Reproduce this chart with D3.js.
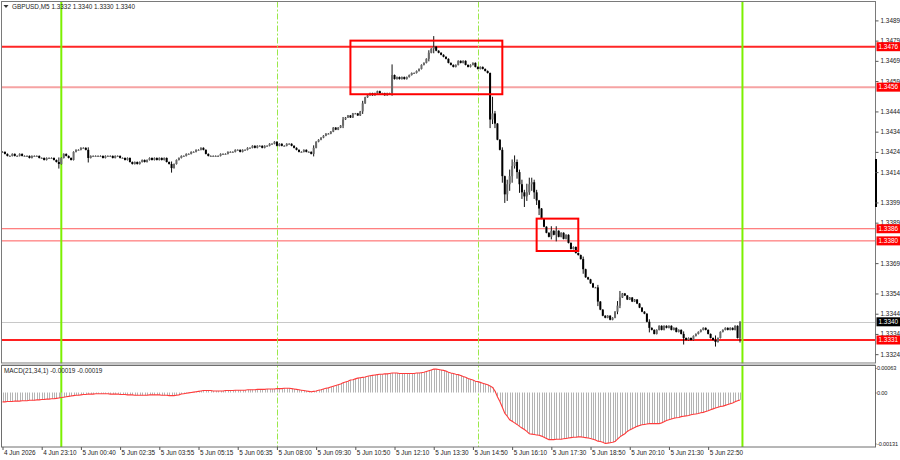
<!DOCTYPE html>
<html>
<head>
<meta charset="utf-8">
<script src="https://cdn.jsdelivr.net/npm/d3@7"></script>
<style>
  body { margin: 0; background: #fff; }
  svg { display: block; font-family: "Liberation Sans", Arial, sans-serif; }
</style>
</head>
<body>
<div id="chart"></div>
<script>
// GBPUSD M5 closes, one per bar (open = previous close)
const closes = [
  1.3424,1.3423,1.3422,1.3422,1.3423,1.3422,1.3422,1.3423,1.3422,1.3422,
  1.3422,1.3421,1.3422,1.3422,1.3422,1.3421,1.3421,1.3420,1.3421,1.3421,
  1.3421,1.3420,1.3419,1.3418,1.3421,1.3423,1.3422,1.3421,1.3420,1.3424,
  1.3425,1.3425,1.3426,1.3426,1.3425,1.3421,1.3422,1.3422,1.3422,1.3422,
  1.3422,1.3421,1.3422,1.3422,1.3422,1.3421,1.3422,1.3422,1.3421,1.3421,
  1.3420,1.3421,1.3419,1.3418,1.3419,1.3418,1.3419,1.3420,1.3419,1.3420,
  1.3421,1.3420,1.3421,1.3420,1.3421,1.3420,1.3421,1.3419,1.3418,1.3416,
  1.3418,1.3420,1.3421,1.3422,1.3422,1.3423,1.3423,1.3424,1.3424,1.3425,
  1.3425,1.3426,1.3425,1.3423,1.3422,1.3422,1.3422,1.3422,1.3422,1.3423,
  1.3423,1.3423,1.3424,1.3424,1.3424,1.3425,1.3425,1.3424,1.3425,1.3425,
  1.3426,1.3426,1.3427,1.3426,1.3427,1.3427,1.3426,1.3427,1.3427,1.3428,
  1.3428,1.3429,1.3427,1.3428,1.3427,1.3427,1.3428,1.3428,1.3427,1.3426,
  1.3425,1.3424,1.3424,1.3425,1.3424,1.3424,1.3423,1.3426,1.3429,1.3430,
  1.3431,1.3432,1.3433,1.3433,1.3434,1.3436,1.3435,1.3436,1.3437,1.3440,
  1.3441,1.3442,1.3441,1.3443,1.3443,1.3442,1.3444,1.3448,1.3451,1.3452,
  1.3453,1.3452,1.3453,1.3454,1.3453,1.3453,1.3452,1.3453,1.3453,1.3462,
  1.3460,1.3461,1.3460,1.3461,1.3460,1.3461,1.3462,1.3463,1.3463,1.3464,
  1.3465,1.3467,1.3468,1.3470,1.3473,1.3475,1.3476,1.3474,1.3473,1.3472,
  1.3471,1.3470,1.3468,1.3467,1.3466,1.3467,1.3469,1.3468,1.3469,1.3467,
  1.3466,1.3467,1.3468,1.3466,1.3465,1.3466,1.3465,1.3464,1.3463,1.3440,
  1.3443,1.3438,1.3430,1.3425,1.3412,1.3403,1.3408,1.3412,1.3417,1.3419,
  1.3414,1.3408,1.3404,1.3402,1.3404,1.3408,1.3409,1.3404,1.3400,1.3396,
  1.3391,1.3387,1.3384,1.3382,1.3385,1.3383,1.3385,1.3382,1.3384,1.3381,
  1.3383,1.3379,1.3376,1.3377,1.3374,1.3373,1.3371,1.3366,1.3362,1.3361,
  1.3359,1.3357,1.3357,1.3350,1.3346,1.3343,1.3342,1.3343,1.3341,1.3342,
  1.3345,1.3348,1.3352,1.3354,1.3353,1.3351,1.3352,1.3350,1.3351,1.3349,
  1.3347,1.3345,1.3344,1.3340,1.3337,1.3336,1.3334,1.3336,1.3338,1.3336,
  1.3338,1.3337,1.3338,1.3336,1.3337,1.3335,1.3336,1.3334,1.3332,1.3331,
  1.3332,1.3331,1.3333,1.3334,1.3335,1.3336,1.3337,1.3336,1.3334,1.3332,
  1.3331,1.3330,1.3332,1.3335,1.3336,1.3337,1.3336,1.3337,1.3336,1.3338,
  1.3332,1.3340
];

// bars with visible wicks: [bar, high, low]
const wicks = [
  [23, 1.3421, 1.3416], [35, 1.3426, 1.3419], [69, 1.3419, 1.3414],
  [127, 1.3427, 1.3422], [139, 1.3441, 1.3436], [147, 1.3449, 1.3443],
  [159, 1.3467, 1.3452], [174, 1.3474, 1.3469], [176, 1.3481, 1.3473],
  [199, 1.3463, 1.3436], [200, 1.3451, 1.3438], [201, 1.3444, 1.3436],
  [204, 1.3426, 1.3409], [205, 1.3412, 1.3399], [206, 1.3410, 1.3400],
  [207, 1.3415, 1.3405], [208, 1.3420, 1.3409], [209, 1.3422, 1.3416],
  [210, 1.3420, 1.3411], [211, 1.3415, 1.3404], [212, 1.3410, 1.3401],
  [213, 1.3405, 1.3397], [214, 1.3408, 1.3400], [215, 1.3411, 1.3403],
  [216, 1.3411, 1.3405], [217, 1.3410, 1.3401], [218, 1.3405, 1.3398],
  [219, 1.3400, 1.3393], [224, 1.3387, 1.3381], [226, 1.3387, 1.3380],
  [237, 1.3372, 1.3364], [243, 1.3358, 1.3348], [251, 1.3350, 1.3344],
  [252, 1.3355, 1.3347], [264, 1.3341, 1.3335], [278, 1.3335, 1.3329],
  [291, 1.3333, 1.3328], [301, 1.3340, 1.3330]
];

// MACD(21,34,1) per bar, in points (1 point = 0.00001)
const macdPts = [
  -24,-24,-23,-23,-23,-22,-22,-22,-21,-21,-21,-20,-20,-20,-19,-19,
  -18,-18,-17,-17,-16,-16,-15,-14,
  -13,-12,-11,-10,-9,-8,-7,-7,-6,
  -5,-5,-4,-4,-4,-3,-3,-3,
  -3,-3,-3,-4,-4,-4,-4,-5,-5,-5,-6,-6,-6,-7,-7,-7,
  -7,-7,-7,-6,-6,-6,-6,-6,-7,-7,-7,-8,-8,-8,
  -7,-6,-4,-3,-2,-1,0,1,2,3,4,
  5,5,5,5,4,4,4,4,4,5,5,5,
  5,6,6,6,6,6,7,7,7,7,8,8,
  8,8,9,9,9,9,10,10,10,11,11,11,
  10,9,8,7,6,5,4,3,2,
  3,4,6,7,9,11,12,14,
  16,18,20,22,25,27,29,32,
  33,35,37,38,39,40,42,43,
  44,45,46,47,47,48,48,49,
  50,50,50,49,49,49,49,49,49,49,50,50,
  51,52,54,56,58,60,
  60,59,58,57,55,52,50,
  49,47,46,44,41,39,36,34,
  32,29,28,26,24,22,20,17,13,
  4,-11,-23,-38,-53,-61,-70,
  -74,-78,-82,-87,-91,-95,-100,-106,
  -107,-108,-109,-110,-112,-115,-118,-121,
  -121,-121,-120,-120,-120,-119,-118,-117,-116,
  -115,-115,-114,-114,-115,-116,-117,-118,
  -120,-122,-125,-126,-128,-131,
  -130,-129,-128,-126,-120,-114,
  -110,-106,-100,-96,
  -93,-90,-87,-85,-83,-82,-81,-80,
  -80,-80,-80,-80,-78,-75,-72,-70,
  -68,-66,-65,-64,-62,-61,-60,-59,-57,-56,-55,-54,-52,
  -51,-49,-47,-44,-42,-40,-38,-36,
  -35,-33,-31,-29,-27,-24,-21,-19
];

const timeLabels = [
  "4 Jun 2026","4 Jun 23:10","5 Jun 00:40","5 Jun 02:35","5 Jun 03:55","5 Jun 05:15",
  "5 Jun 06:35","5 Jun 08:00","5 Jun 09:30","5 Jun 10:50","5 Jun 12:10","5 Jun 13:30",
  "5 Jun 14:50","5 Jun 16:10","5 Jun 17:30","5 Jun 18:50","5 Jun 20:10","5 Jun 21:30","5 Jun 22:50"
];
const barsPerLabel = 16;

// 1.3379 sits under the 1.3380 tag in the original, so it is left out
const priceTicks = [1.3489,1.3479,1.3469,1.3459,1.3444,1.3434,1.3424,1.3414,
                    1.3399,1.3389,1.3369,1.3354,1.3344,1.3334,1.3324];
const macdTicks = [0.00063, 0, -0.00131];

const levels = [1.3476, 1.3456, 1.3386, 1.3380, 1.3331];
const bidPrice = 1.3340;
// [fromBar, toBar, topPrice, bottomPrice]
const zones = [[142, 204, 1.3479, 1.34525], [218, 235, 1.3391, 1.3375]];
const dayLines = [24, 302];
const sessionLines = [112, 194];
const header = "GBPUSD,M5  1.3332 1.3340 1.3330 1.3340";
const macdHeader = "MACD(21,34,1) -0.00019 -0.00019";

drawChart();

function drawChart() {
    const width = 900, height = 460;
    const plotL = 1.5, plotR = 875.5;
    const mainTop = 1.5, mainBot = 363, macdTop = 365.5, macdBot = 447;
    const fs = 6.4;

    const x = d3.scaleLinear().domain([0, closes.length - 1]).range([2.5, 740]);
    const y = d3.scaleLinear().domain([1.3476, 1.3331]).range([46.7, 340]);
    const ym = d3.scaleLinear().domain([0.00063, -0.00131]).range([368, 443.5]);

    const svg = d3.select("#chart").append("svg")
        .attr("width", width)
        .attr("height", height);

    // candle data
    const wickMap = new Map(wicks.map(w => [w[0], w]));
    const bars = closes.map((c, i) => {
        const o = i > 0 ? closes[i - 1] : c;
        const w = wickMap.get(i);
        return {
            i: i, open: o, close: c,
            high: w ? w[1] : Math.max(o, c),
            low: w ? w[2] : Math.min(o, c)
        };
    });

    // horizontal levels (drawn under candles)
    const levelStyle = [
        { stroke: "#ff2626", w: 2 },
        { stroke: "#f6a3a3", w: 2 },
        { stroke: "#ff5a5a", w: 1 },
        { stroke: "#ff5a5a", w: 1 },
        { stroke: "#ff2020", w: 2 }
    ];
    svg.append("line")
        .attr("x1", plotL).attr("x2", plotR)
        .attr("y1", Math.round(y(bidPrice)) + 0.5).attr("y2", Math.round(y(bidPrice)) + 0.5)
        .attr("stroke", "#c8c8c8").attr("stroke-width", 1);

    svg.selectAll("line.level")
        .data(levels)
        .enter()
        .append("line")
        .classed("level", true)
        .attr("x1", plotL).attr("x2", plotR)
        .attr("y1", d => y(d)).attr("y2", d => y(d))
        .attr("stroke", (d, k) => levelStyle[k].stroke)
        .attr("stroke-width", (d, k) => levelStyle[k].w);

    // vertical day / session lines across both panes
    svg.selectAll("line.day")
        .data(dayLines)
        .enter()
        .append("line")
        .attr("x1", d => x(d)).attr("x2", d => x(d))
        .attr("y1", mainTop).attr("y2", macdBot)
        .attr("stroke", "#7cf000").attr("stroke-width", 2);

    svg.selectAll("line.session")
        .data(sessionLines)
        .enter()
        .append("line")
        .attr("x1", d => Math.round(x(d)) + 0.5).attr("x2", d => Math.round(x(d)) + 0.5)
        .attr("y1", mainTop).attr("y2", macdBot)
        .attr("stroke", "#9be84a").attr("stroke-width", 1)
        .attr("stroke-dasharray", "6,2,2,2");

    // candles
    const gBars = svg.append("g");
    gBars.selectAll("line.wick")
        .data(bars)
        .enter()
        .append("line")
        .attr("x1", d => x(d.i)).attr("x2", d => x(d.i))
        .attr("y1", d => y(d.high) - 0.5).attr("y2", d => y(d.low) + 0.5)
        .attr("stroke", "#111").attr("stroke-width", 1);

    gBars.selectAll("rect.body")
        .data(bars)
        .enter()
        .append("rect")
        .attr("x", d => x(d.i) - 1)
        .attr("width", 2)
        .attr("y", d => y(Math.max(d.open, d.close)))
        .attr("height", d => Math.max(1, y(Math.min(d.open, d.close)) - y(Math.max(d.open, d.close))))
        .attr("fill", d => d.close < d.open ? "#000" : "#6a6a6a");

    // zones
    svg.selectAll("rect.zone")
        .data(zones)
        .enter()
        .append("rect")
        .attr("x", d => x(d[0])).attr("width", d => x(d[1]) - x(d[0]))
        .attr("y", d => y(d[2])).attr("height", d => y(d[3]) - y(d[2]))
        .attr("fill", "none").attr("stroke", "#ff0000").attr("stroke-width", 2);

    // MACD histogram + signal line
    const macd = macdPts.map(v => v / 100000);
    svg.append("g").selectAll("line")
        .data(macd)
        .enter()
        .append("line")
        .attr("x1", (d, i) => Math.round(x(i)) + 0.5).attr("x2", (d, i) => Math.round(x(i)) + 0.5)
        .attr("y1", ym(0)).attr("y2", d => ym(d))
        .attr("stroke", "#b4b4b4").attr("stroke-width", 1);

    svg.append("path")
        .datum(macd)
        .attr("fill", "none")
        .attr("stroke", "#ff3b3b")
        .attr("stroke-width", 1.1)
        .attr("d", d3.line().x((d, i) => x(i)).y(d => ym(d)));

    // frames
    svg.append("rect")
        .attr("x", plotL).attr("y", mainTop)
        .attr("width", plotR - plotL).attr("height", mainBot - mainTop)
        .attr("fill", "none").attr("stroke", "#7a7a7a").attr("stroke-width", 1);
    svg.append("rect")
        .attr("x", plotL).attr("y", mainBot + 0.5)
        .attr("width", plotR - plotL).attr("height", macdTop - mainBot - 1)
        .attr("fill", "#c9c9c9");
    svg.append("rect")
        .attr("x", plotL).attr("y", macdTop)
        .attr("width", plotR - plotL).attr("height", macdBot - macdTop)
        .attr("fill", "none").attr("stroke", "#6e6e6e").attr("stroke-width", 1);

    // marker on the price scale border
    svg.append("line")
        .attr("x1", plotR + 0.5).attr("x2", plotR + 0.5)
        .attr("y1", 159).attr("y2", 207)
        .attr("stroke", "#000").attr("stroke-width", 2);

    // price axis
    const gy = svg.append("g")
        .attr("transform", `translate(${plotR},0)`)
        .call(d3.axisRight(y).tickValues(priceTicks).tickFormat(d3.format(".4f")).tickSize(3).tickPadding(2));
    styleAxis(gy, fs);

    // MACD axis (tighter, the labels run up to the window edge)
    const gm = svg.append("g")
        .attr("transform", `translate(${plotR},0)`)
        .call(d3.axisRight(ym).tickValues(macdTicks)
            .tickFormat(d => d === 0 ? "0.00" : d3.format(".5f")(d).replace("−", "-"))
            .tickSize(1).tickPadding(0.5));
    styleAxis(gm, 5.6);
    gm.selectAll(".tick text").attr("letter-spacing", -0.15);

    // level price tags
    const tags = levels.map(l => ({ p: l, fill: "#ff0000" }))
        .concat([{ p: bidPrice, fill: "#000" }]);
    const gTags = svg.append("g");
    gTags.selectAll("rect")
        .data(tags)
        .enter()
        .append("rect")
        .attr("x", plotR + 1).attr("width", 23.5)
        .attr("y", d => y(d.p) - 4.5).attr("height", 9)
        .attr("fill", d => d.fill);
    gTags.selectAll("text")
        .data(tags)
        .enter()
        .append("text")
        .attr("x", plotR + 3)
        .attr("y", d => y(d.p) + 2.3)
        .attr("font-size", fs)
        .attr("fill", "#fff")
        .text(d => d3.format(".4f")(d.p));

    // time axis
    const gx = svg.append("g")
        .attr("transform", `translate(0,${macdBot})`)
        .call(d3.axisBottom(x)
            .tickValues(timeLabels.map((t, k) => k * barsPerLabel))
            .tickFormat((d, k) => timeLabels[k])
            .tickSize(3).tickPadding(0));
    styleAxis(gx, fs);
    gx.selectAll("text").attr("text-anchor", "start").attr("dx", 1);

    // headers
    svg.append("path")
        .attr("d", "M3.5,5 L8.5,5 L6,8 Z")
        .attr("fill", "#333");
    svg.append("text")
        .attr("x", 12).attr("y", 9)
        .attr("font-size", fs).attr("fill", "#222")
        .text(header);
    svg.append("text")
        .attr("x", 4).attr("y", 373)
        .attr("font-size", fs).attr("fill", "#222")
        .text(macdHeader);

    function styleAxis(g, size) {
        g.attr("font-size", size).attr("font-family", null);
        g.select(".domain").remove();
        g.selectAll(".tick line").attr("stroke", "#555");
        g.selectAll(".tick text").attr("fill", "#222");
    }
}
</script>
</body>
</html>
